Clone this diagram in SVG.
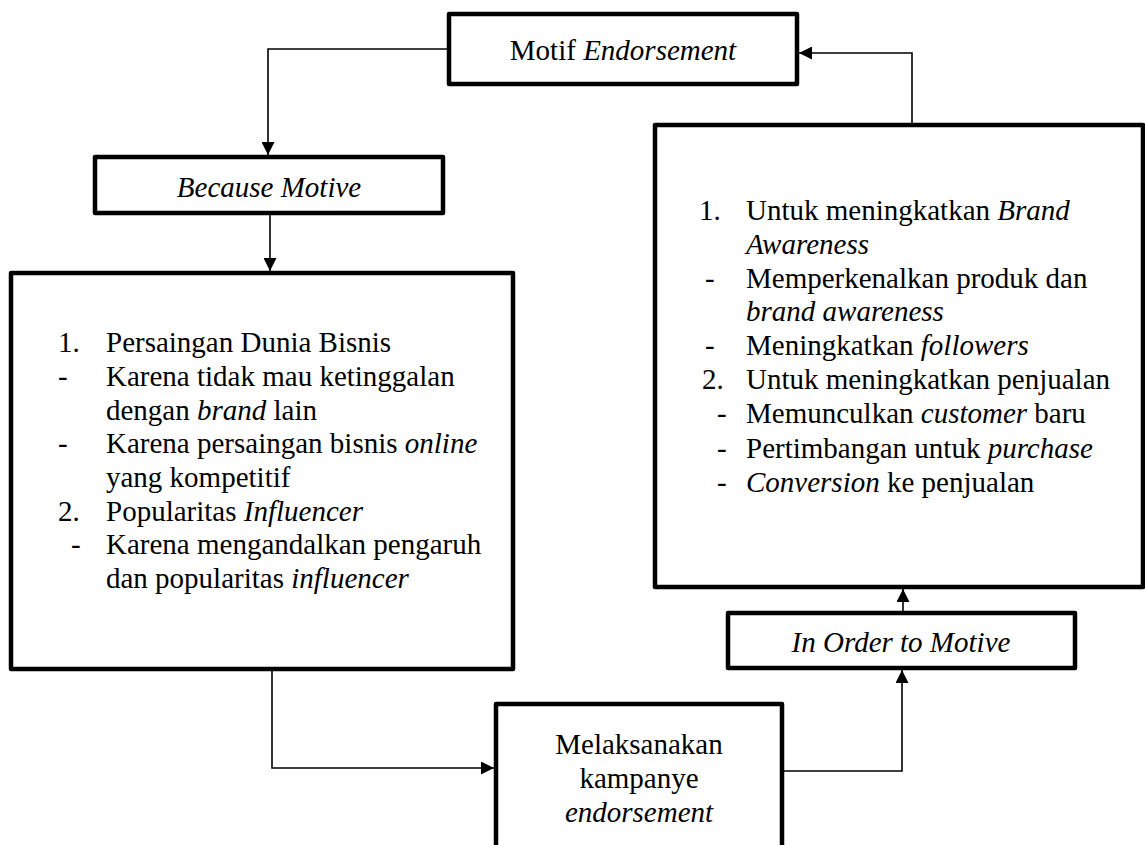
<svg xmlns="http://www.w3.org/2000/svg" width="1145" height="845" viewBox="0 0 1145 845">
<style>
.box{fill:#fff;stroke:#000;stroke-width:4.5;stroke-linejoin:round}
.t{font-family:"Liberation Serif","Times New Roman",serif;font-size:29px;fill:#000}
.c{text-anchor:middle}
.i{font-style:italic}
.ln{fill:none;stroke:#000;stroke-width:1.6}
</style>
<defs>
<marker id="ah" viewBox="0 0 10 10" refX="10" refY="5" markerWidth="15" markerHeight="13" markerUnits="userSpaceOnUse" orient="auto">
<path d="M0,0 L10,5 L0,10 z" fill="#000"/>
</marker>
</defs>
<rect width="1145" height="845" fill="#fff"/>
<g id="connectors">
<path class="ln" d="M449,49 H268 V155" marker-end="url(#ah)"/>
<path class="ln" d="M270,213 V271" marker-end="url(#ah)"/>
<path class="ln" d="M272,669 V768 H494" marker-end="url(#ah)"/>
<path class="ln" d="M782,771 H902 V670" marker-end="url(#ah)"/>
<path class="ln" d="M903,613 V589" marker-end="url(#ah)"/>
<path class="ln" d="M912,125 V53 H799" marker-end="url(#ah)"/>
</g>
<g id="motif">
<rect class="box" x="449" y="14" width="348" height="70"/>
<text class="t c" x="623" y="60">Motif <tspan class="i">Endorsement</tspan></text>
</g>
<g id="because">
<rect class="box" x="95" y="157" width="348" height="56"/>
<text class="t c i" x="269" y="197">Because Motive</text>
</g>
<g id="because-detail">
<rect class="box" x="11" y="273" width="502" height="396"/>
<text class="t" x="58" y="352">1.</text><text class="t" x="106" y="352">Persaingan Dunia Bisnis</text>
<text class="t" x="58" y="386">-</text><text class="t" x="106" y="386">Karena tidak mau ketinggalan</text>
<text class="t" x="106" y="420">dengan <tspan class="i">brand</tspan> lain</text>
<text class="t" x="58" y="453">-</text><text class="t" x="106" y="453">Karena persaingan bisnis <tspan class="i">online</tspan></text>
<text class="t" x="106" y="487">yang kompetitif</text>
<text class="t" x="58" y="521">2.</text><text class="t" x="106" y="521">Popularitas <tspan class="i">Influencer</tspan></text>
<text class="t" x="71" y="554">-</text><text class="t" x="106" y="554">Karena mengandalkan pengaruh</text>
<text class="t" x="106" y="588">dan popularitas <tspan class="i">influencer</tspan></text>
</g>
<g id="melaksanakan">
<rect class="box" x="496" y="704" width="286" height="170"/>
<text class="t c" x="639" y="754">Melaksanakan</text>
<text class="t c" x="639" y="788">kampanye</text>
<text class="t c i" x="639" y="822">endorsement</text>
</g>
<g id="inorder">
<rect class="box" x="728" y="613" width="347" height="55"/>
<text class="t c i" x="901" y="652">In Order to Motive</text>
</g>
<g id="inorder-detail">
<rect class="box" x="655" y="125" width="488" height="462"/>
<text class="t" x="699" y="220">1.</text><text class="t" x="746" y="220">Untuk meningkatkan <tspan class="i">Brand</tspan></text>
<text class="t i" x="746" y="254">Awareness</text>
<text class="t" x="705" y="288">-</text><text class="t" x="746" y="288">Memperkenalkan produk dan</text>
<text class="t i" x="746" y="321">brand awareness</text>
<text class="t" x="705" y="355">-</text><text class="t" x="746" y="355">Meningkatkan <tspan class="i">followers</tspan></text>
<text class="t" x="702" y="389">2.</text><text class="t" x="746" y="389">Untuk meningkatkan penjualan</text>
<text class="t" x="717" y="423">-</text><text class="t" x="746" y="423">Memunculkan <tspan class="i">customer</tspan> baru</text>
<text class="t" x="717" y="458">-</text><text class="t" x="746" y="458">Pertimbangan untuk <tspan class="i">purchase</tspan></text>
<text class="t" x="717" y="492">-</text><text class="t" x="746" y="492"><tspan class="i">Conversion</tspan> ke penjualan</text>
</g>
</svg>
